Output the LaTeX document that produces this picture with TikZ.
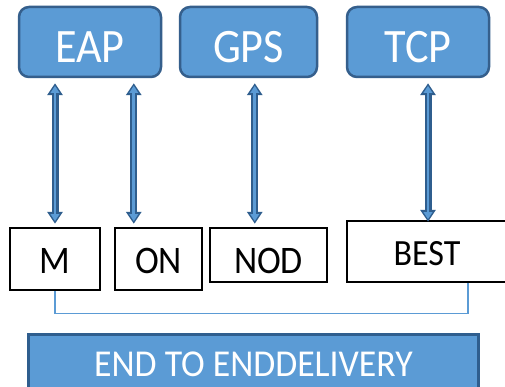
\documentclass[tikz,border=0pt]{standalone}
\usepackage{fontspec}
\setmainfont{Carlito}
\usetikzlibrary{arrows.meta,calc,backgrounds}
\definecolor{fillblue}{HTML}{5B9BD5}
\definecolor{edgeblue}{HTML}{355F8C}
\definecolor{arrowdark}{HTML}{2F5E8E}
\newcommand{\sqz}[1]{\scalebox{0.92}[1]{#1}}
\begin{document}
\begin{tikzpicture}[x=1pt,y=-1pt,
  topbox/.style={draw=edgeblue, fill=fillblue, line width=2.5pt, rounded corners=10pt,
    text=white, font=\fontsize{48}{50}\selectfont, inner sep=0pt,
    minimum height=70pt, text height=42pt, text depth=0pt},
  lowbox/.style={draw=black, line width=2.5pt, fill=white,
    font=\fontsize{39}{40}\selectfont, inner sep=0pt, text depth=0pt},
  endbox/.style={fill=fillblue, text=white,
    font=\fontsize{38}{39}\selectfont, inner sep=0pt, text height=31.5pt, text depth=0pt},
  endedge/.style={draw=arrowdark, line width=3pt},
  outerarr/.style={draw=arrowdark, line width=7pt,
    {Triangle[width=15pt,length=12pt]}-{Triangle[width=15pt,length=12pt]}},
  innerarr/.style={draw=fillblue, line width=2.6pt,
    {Triangle[width=8.5pt,length=7pt]}-{Triangle[width=8.5pt,length=7pt]},
    shorten >=2.6pt, shorten <=2.6pt},
  brk/.style={draw=fillblue, line width=1.2pt}
]
\useasboundingbox (0,0) rectangle (505,387);
\clip (0,0) rectangle (505,387);
\fill[white] (0,0) rectangle (505,387);

% top boxes
\node[topbox, minimum width=142pt] (eap) at (90,42) {\sqz{EAP}};
\node[topbox, minimum width=137pt] (gps) at (248.5,42) {\sqz{GPS}};
\node[topbox, minimum width=142pt] (tcp) at (418,42) {\sqz{TCP}};

% lower boxes
\node[lowbox, minimum width=90pt, minimum height=62pt, text height=28pt] (m) at (55,259) {\sqz{M}};
\node[lowbox, minimum width=87pt, minimum height=62pt, text height=28pt] (on) at (158.5,259) {\sqz{ON}};
\node[lowbox, minimum width=117pt, minimum height=54pt, text height=36pt] (nod) at (268.5,255) {\sqz{NOD}};
\node[lowbox, minimum width=160pt, minimum height=61pt, text height=27pt, font=\fontsize{37}{38}\selectfont] (best) at (427,251.5) {\sqz{BEST}};

% bottom box (cut off by the lower edge)
\node[endbox, minimum width=449pt, minimum height=52pt] (end) at (253.5,361) {\scalebox{0.94}[1]{END TO ENDDELIVERY}};
\draw[endedge] ($(end.south west)+(0,2)$) -- (end.north west) -- (end.north east) -- ($(end.south east)+(0,2)$);

% double arrows
\coordinate (b1) at ($(m.north)+(0,-3)$);
\coordinate (t1) at ($(b1 |- eap.south)+(0,5)$);
\coordinate (b2) at ($(on.north west)+(20,-3)$);
\coordinate (t2) at ($(b2 |- eap.south)+(0,5)$);
\coordinate (b3) at ($(nod.north west)+(46,-3)$);
\coordinate (t3) at ($(b3 |- gps.south)+(0,5)$);
\coordinate (b4) at ($(best.north)+(1,2)$);
\coordinate (t4) at ($(b4 |- tcp.south)+(0,5)$);
\foreach \i in {1,2,3,4}{
  \draw[outerarr] (t\i) -- (b\i);
  \draw[innerarr] (t\i) -- (b\i);
}

% bracket
\coordinate (bt) at (266,317);
\draw[brk] (m.south) -- ++(0,22) -| ($(best.south)+(41,0)$);
\begin{scope}[on background layer]
\draw[brk, -{Straight Barb[length=16pt,width=17pt]}] (end.north -| bt) -- (bt);
\end{scope}
\end{tikzpicture}
\end{document}
